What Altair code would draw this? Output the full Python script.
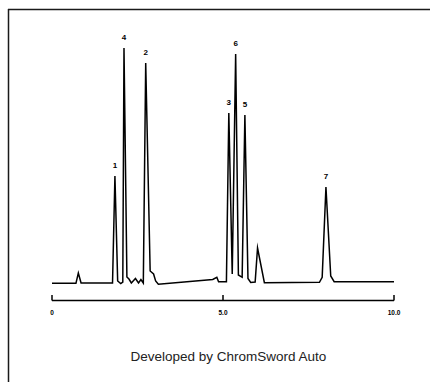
import altair as alt
import pandas as pd

# Chromatogram trace (time in min, detector signal in arbitrary units)
time_min = [0.00, 0.70, 0.77, 0.85, 1.77, 1.84, 1.92, 2.01, 2.07, 2.105,
            2.19, 2.25, 2.32, 2.44, 2.53, 2.60, 2.67, 2.74, 2.87, 2.97,
            3.03, 3.11, 4.70, 4.82, 4.87, 5.10, 5.17, 5.27, 5.37, 5.45,
            5.56, 5.64, 5.73, 5.81, 5.94, 6.01, 6.21, 7.82, 7.90, 8.01,
            8.15, 8.25, 10.00]
signal = [-0.3, -0.3, 10, 0, 0, 107, 2, -0.5, 1, 235,
          6, 4, 0, 4.5, 0, 3.5, 0, 220, 12, 9,
          2, -1.3, 3.5, 5.7, 1.3, 1.3, 170, 9, 229, 8,
          5.7, 168, 4.5, 0.5, 1, 35, 0.3, 0.7, 5.7, 96,
          7, 1.3, 1.3]

# Peak labels
peak_ids = ["1", "4", "2", "3", "6", "5", "7"]
peak_time = [1.84, 2.105, 2.74, 5.17, 5.37, 5.64, 8.01]
peak_height = [107, 235, 220, 170, 229, 168, 96]

# Time axis
tick_values = [0, 5, 10]
tick_labels = ["0", "5.0", "10.0"]
axis_start = [0]
axis_end = [10]

footer = ["Developed by ChromSword Auto"]

FONT = "Liberation Sans"

trace_df = pd.DataFrame({"t": time_min, "v": signal, "i": list(range(len(time_min)))})
peaks_df = pd.DataFrame({"t": peak_time, "v": peak_height, "label": peak_ids})
ticks_df = pd.DataFrame({"t": tick_values, "label": tick_labels})
axis_df = pd.DataFrame({"t": axis_start, "t2": axis_end})
footer_df = pd.DataFrame({"text": footer})

xs = alt.Scale(domain=[0, 10], range=[44, 386])
ys = alt.Scale(domain=[0, 235], range=[274, 39])

frame_left = alt.Chart(footer_df).mark_rule(color="#1a1a1a", strokeWidth=1.5).encode(
    x=alt.value(0.5), y=alt.value(0), y2=alt.value(373)
)
frame_top = alt.Chart(footer_df).mark_rule(color="#1a1a1a", strokeWidth=1.5).encode(
    y=alt.value(0.5), x=alt.value(0), x2=alt.value(422)
)

trace = alt.Chart(trace_df).mark_line(
    color="black", strokeWidth=1.5, strokeJoin="miter", strokeMiterLimit=20
).encode(
    x=alt.X("t:Q", scale=xs, axis=None),
    y=alt.Y("v:Q", scale=ys, axis=None),
    order="i:Q",
)

labels = alt.Chart(peaks_df).mark_text(
    font=FONT, fontSize=8, fontWeight="bold", color="black",
    baseline="middle", align="center", dy=-10
).encode(
    x=alt.X("t:Q", scale=xs),
    y=alt.Y("v:Q", scale=ys),
    text="label:N",
)

axis_line = alt.Chart(axis_df).mark_rule(color="black", strokeWidth=1.5).encode(
    x=alt.X("t:Q", scale=xs), x2="t2:Q", y=alt.value(291.5)
)

ticks = alt.Chart(ticks_df).mark_rule(color="black", strokeWidth=1.5).encode(
    x=alt.X("t:Q", scale=xs), y=alt.value(286), y2=alt.value(291.5)
)

tick_text = alt.Chart(ticks_df).mark_text(
    font=FONT, fontSize=6.5, fontWeight="bold", color="black",
    baseline="middle", align="center"
).encode(
    x=alt.X("t:Q", scale=xs), y=alt.value(304), text="label:N"
)

footer_text = alt.Chart(footer_df).mark_text(
    font=FONT, fontSize=13.5, color="#222222", baseline="middle", align="center"
).encode(
    x=alt.value(220.3), y=alt.value(348.3), text="text:N"
)

chart = alt.layer(
    frame_left, frame_top, trace, labels, axis_line, ticks, tick_text, footer_text
).properties(
    width=422, height=373,
    padding={"left": 8, "top": 9, "right": 0, "bottom": 0},
    autosize=alt.AutoSizeParams(type="none"),
    background="white",
).configure_view(stroke=None)

chart.save("out.html", embed_options={"renderer": "svg", "actions": False})
